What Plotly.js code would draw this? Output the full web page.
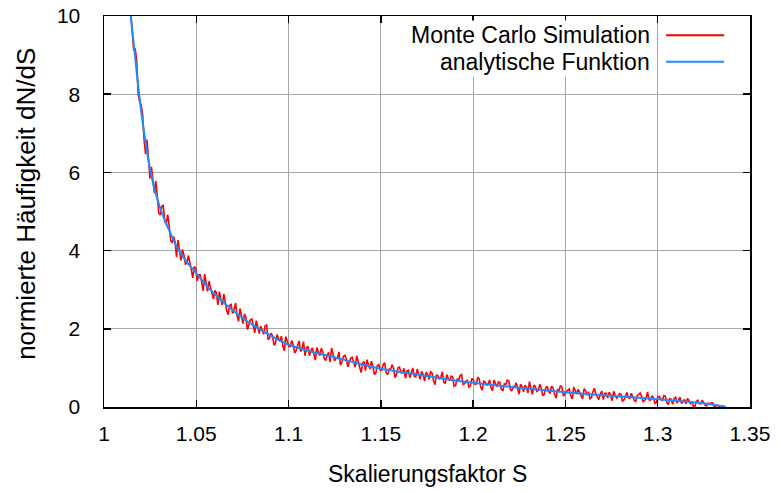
<!DOCTYPE html>
<html>
<head>
<meta charset="utf-8">
<script src="https://cdn.plot.ly/plotly-3.0.1.min.js"></script>
<style>html,body{margin:0;padding:0;background:#fff;}#chart{width:779px;height:493px;}</style>
</head>
<body>
<div id="chart"></div>
<script>
// Monte Carlo histogram: first bin centre, bin width, value per bin
const mcStart = 1.0145;
const mcBinWidth = 0.0008;
const mcValues = [
10.07,9.54,9.12,9.17,8.86,8.01,7.81,7.73,7.50,6.85,
6.47,6.84,6.34,5.84,6.14,5.84,5.47,5.78,5.37,4.96,
4.91,5.12,5.17,4.75,4.67,4.92,4.64,4.27,4.20,4.36,
4.22,3.84,4.27,4.02,3.75,4.03,3.89,3.66,3.67,3.87,
3.71,3.51,3.30,3.59,3.56,3.22,3.38,3.38,3.20,2.97,
3.40,3.16,2.96,3.22,3.04,2.87,2.76,2.98,2.92,2.61,
2.95,2.75,2.61,2.89,2.63,2.46,2.36,2.60,2.62,2.39,
2.49,2.66,2.33,2.19,2.52,2.34,2.13,2.38,2.29,1.98,
2.13,2.23,2.25,2.03,1.90,2.21,2.06,1.88,2.07,1.98,
1.86,2.08,2.10,1.72,1.76,1.89,1.82,1.58,1.64,1.85,
1.78,1.68,1.81,1.56,1.44,1.80,1.68,1.55,1.55,1.70,
1.60,1.38,1.44,1.56,1.69,1.42,1.48,1.67,1.31,1.51,
1.55,1.31,1.45,1.51,1.32,1.20,1.52,1.41,1.31,1.50,
1.41,1.24,1.19,1.32,1.40,1.15,1.51,1.36,1.18,1.24,
1.26,1.41,1.07,1.15,1.29,1.32,1.23,1.03,1.15,1.25,
1.27,1.11,1.02,1.31,1.17,1.00,0.88,1.12,1.16,0.93,
1.21,1.07,0.97,1.17,1.04,0.83,0.88,1.06,1.08,0.94,
0.94,1.09,1.13,0.87,0.83,0.97,0.97,1.08,0.99,0.75,
0.84,1.00,1.02,0.88,0.88,0.99,0.73,0.92,0.94,0.75,
0.90,1.00,0.79,0.77,0.97,0.84,0.71,0.91,0.83,0.66,
0.89,0.83,0.71,0.90,0.87,0.68,0.57,0.81,0.80,0.71,
0.76,0.90,0.63,0.61,0.83,0.73,0.67,0.79,0.77,0.53,
0.55,0.72,0.68,0.80,0.83,0.58,0.59,0.66,0.68,0.51,
0.54,0.73,0.69,0.58,0.59,0.76,0.72,0.51,0.43,0.66,
0.64,0.56,0.58,0.69,0.49,0.42,0.69,0.60,0.52,0.64,
0.63,0.45,0.41,0.59,0.58,0.69,0.67,0.46,0.41,0.52,
0.52,0.62,0.45,0.33,0.58,0.53,0.39,0.56,0.50,0.36,
0.65,0.48,0.32,0.56,0.52,0.40,0.43,0.58,0.48,0.30,
0.32,0.49,0.53,0.39,0.36,0.53,0.49,0.33,0.23,0.44,
0.42,0.55,0.51,0.28,0.32,0.40,0.42,0.46,0.28,0.21,
0.51,0.39,0.33,0.45,0.36,0.28,0.21,0.47,0.42,0.30,
0.39,0.21,0.24,0.39,0.48,0.32,0.26,0.19,0.33,0.41,
0.19,0.35,0.35,0.23,0.38,0.31,0.16,0.40,0.31,0.23,
0.27,0.34,0.33,0.15,0.18,0.29,0.37,0.24,0.22,0.35,
0.27,0.17,0.14,0.29,0.32,0.36,0.27,0.14,0.16,0.24,
0.38,0.18,0.17,0.29,0.23,0.09,0.12,0.26,0.27,0.20,
0.17,0.29,0.28,0.12,0.06,0.21,0.20,0.07,0.22,0.25,
0.10,0.18,0.25,0.09,0.13,0.19,0.08,0.22,0.17,0.09,
0.14,0.02,0.00,0.14,0.17,0.09,0.08,0.17,0.12,0.05,
0.03,0.10,0.09,0.11,0.11,0.02,0.02,0.05,0.035,-0.01,
0.01,0.03,0.01
];

// Analytic function, points
const anS = [1.0145,1.0170,1.0190,1.0218,1.0253,1.0300,1.0350,1.0406,1.0450,1.0500,
             1.0560,1.0628,1.0700,1.0773,1.0850,1.0917,1.1008,1.1120,1.1242,1.1370,
             1.1500,1.1700,1.1900,1.2000,1.2250,1.2500,1.2700,1.2800,1.3000,1.3100,
             1.3230,1.3300,1.3370];
const anY = [10.0,8.9,8.0,7.0,6.0,5.15,4.55,4.0,3.7,3.42,
             3.08,2.76,2.46,2.2,1.97,1.79,1.58,1.42,1.28,1.12,
             0.98,0.83,0.68,0.62,0.49,0.38,0.30,0.27,0.20,0.16,
             0.10,0.06,0.0];

const xTickVals = [1,1.05,1.1,1.15,1.2,1.25,1.3,1.35];
const xTickText = ["1","1.05","1.1","1.15","1.2","1.25","1.3","1.35"];
const yTickVals = [0,2,4,6,8,10];
const yTickText = ["0","2","4","6","8","10"];

const seriesNames = ["Monte Carlo Simulation","analytische Funktion"];
const seriesColors = ["#ff0000","#1a8cff"];
const xTitle = "Skalierungsfaktor S";
const yTitle = "normierte Häufigkeit dN/dS";

const FONT = "Liberation Sans, Arial, sans-serif";
const TICK_SIZE = 21;
const TEXT_SIZE = 23;

const traces = [
  {
    type: "scatter", mode: "lines",
    x0: mcStart, dx: mcBinWidth, y: mcValues,
    line: {color: seriesColors[0], width: 1.6},
    name: seriesNames[0], showlegend: false
  },
  {
    type: "scatter", mode: "lines",
    x: anS, y: anY,
    line: {color: seriesColors[1], width: 2, shape: "spline", smoothing: 0.6},
    name: seriesNames[1], showlegend: false
  }
];

const legendRowsY = [0.951, 0.883];
const annotations = seriesNames.map((n, i) => ({
  xref: "paper", yref: "paper", x: 0.848, y: legendRowsY[i],
  xanchor: "right", yanchor: "middle", showarrow: false,
  text: n, font: {family: FONT, size: TEXT_SIZE, color: "#000"}, bgcolor: "#ffffff"
}));
annotations.push({
  xref: "paper", yref: "paper", x: 0.5, y: -0.171,
  xanchor: "center", yanchor: "middle", showarrow: false,
  text: xTitle, font: {family: FONT, size: TEXT_SIZE, color: "#000"}
});
annotations.push({
  xref: "paper", yref: "paper", x: -0.122, y: 0.52,
  xanchor: "center", yanchor: "middle", showarrow: false, textangle: -90,
  text: yTitle, font: {family: FONT, size: 26, color: "#000"}
});

const layout = {
  width: 779, height: 493,
  margin: {l: 104, r: 29, t: 16, b: 86},
  paper_bgcolor: "#ffffff", plot_bgcolor: "#ffffff",
  font: {family: FONT, size: TICK_SIZE, color: "#000"},
  showlegend: false,
  xaxis: {
    range: [1, 1.35],
    tickvals: xTickVals, ticktext: xTickText,
    ticks: "inside", ticklen: 7, tickwidth: 1.5, tickcolor: "#000",
    showline: true, linecolor: "#000", linewidth: 1.5, mirror: "ticks",
    showgrid: true, gridcolor: "#a8a8a8", gridwidth: 1,
    zeroline: false,
    ticklabelstandoff: 7,
    tickfont: {family: FONT, size: TICK_SIZE, color: "#000"}
  },
  yaxis: {
    range: [0, 10],
    tickvals: yTickVals, ticktext: yTickText,
    ticks: "inside", ticklen: 7, tickwidth: 1.5, tickcolor: "#000",
    showline: true, linecolor: "#000", linewidth: 1.5, mirror: "ticks",
    showgrid: true, gridcolor: "#a8a8a8", gridwidth: 1,
    zeroline: false,
    ticklabelstandoff: 18,
    tickfont: {family: FONT, size: TICK_SIZE, color: "#000"}
  },
  annotations: annotations,
  shapes: seriesNames.map((n, i) => ({
    type: "line", xref: "paper", yref: "paper",
    x0: 0.870, x1: 0.960, y0: legendRowsY[i], y1: legendRowsY[i],
    line: {color: seriesColors[i], width: 2}
  }))
};

Plotly.newPlot("chart", traces, layout, {displayModeBar: false, staticPlot: true});
</script>
</body>
</html>
